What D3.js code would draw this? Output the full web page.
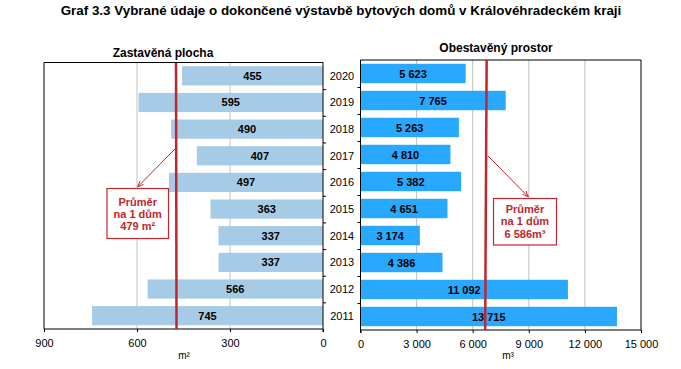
<!DOCTYPE html>
<html><head><meta charset="utf-8">
<script src="https://cdn.jsdelivr.net/npm/d3@7"></script>
<style>body{margin:0;background:#fff;}svg{display:block;font-family:"Liberation Sans",Arial,sans-serif;}</style>
</head><body>
<svg id="c" width="681" height="369"></svg>
<script>
const years = ["2020","2019","2018","2017","2016","2015","2014","2013","2012","2011"];
const plocha = [455,595,490,407,497,363,337,337,566,745];
const prostor = [5623,7765,5263,4810,5382,4651,3174,4386,11092,13715];
const avgPlocha = 479;
const avgProstor = 6586;
const leftTicks = [900,600,300,0];
const rightTicks = [0,3000,6000,9000,12000,15000];
const title = "Graf 3.3 Vybrané údaje o dokončené výstavbě bytových domů v Královéhradeckém kraji";

const svg = d3.select("#c");
const fmt = v => d3.format(",")(v).replace(/,/g, "\u00a0");
const red = "#c0272d";

svg.append("text").attr("x",341).attr("y",15).attr("text-anchor","middle")
  .attr("font-weight","bold").attr("font-size","13.4px").text(title);

// Left panel
const xL = d3.scaleLinear().domain([900,0]).range([44,323]);
const yL = d3.scaleBand().domain(years).range([62.5,329]).paddingInner(0.28).paddingOuter(0.14);
const gL = svg.append("g");
gL.selectAll(".grid").data([600,300]).join("line")
  .attr("x1",d=>xL(d)).attr("x2",d=>xL(d)).attr("y1",62.5).attr("y2",329)
  .attr("stroke","#c0c0c0").attr("stroke-width",1);
gL.selectAll(".bar").data(years).join("rect")
  .attr("x",(d,i)=>xL(plocha[i])).attr("width",(d,i)=>xL(0)-xL(plocha[i]))
  .attr("y",d=>yL(d)).attr("height",yL.bandwidth()).attr("fill","#a6cbe7");
gL.selectAll(".lbl").data(years).join("text")
  .attr("x",(d,i)=>(xL(plocha[i])+xL(0))/2).attr("y",d=>yL(d)+yL.bandwidth()/2+4)
  .attr("text-anchor","middle").attr("font-weight","bold").attr("font-size","11px")
  .text((d,i)=>fmt(plocha[i]));
gL.append("path").attr("d",`M${xL(0)},62.5H44V329`).attr("fill","none").attr("stroke","#000");
const axL = d3.axisBottom(xL).tickValues(leftTicks).tickSize(3).tickPadding(7);
gL.append("g").attr("transform","translate(0,329)").call(axL)
  .call(g=>{g.select(".domain").attr("d",`M44,0H${xL(0)}`); g.selectAll("text").attr("font-size","11px").attr("font-family","Liberation Sans, Arial");});
const axLR = d3.axisRight(d3.scaleLinear().domain([0,10]).range([62.5,329])).tickValues(d3.range(1,10)).tickSize(3).tickFormat("");
gL.append("g").attr("transform",`translate(${xL(0)},0)`).call(axLR)
  .call(g=>g.select(".domain").attr("d","M0,62.5V332"));
svg.append("text").attr("x",163).attr("y",57).attr("text-anchor","middle")
  .attr("font-weight","bold").attr("font-size","12px").text("Zastavěná plocha");
svg.append("text").attr("x",184).attr("y",359).attr("text-anchor","middle")
  .attr("font-size","10px").text("m²");

// year labels
svg.selectAll(".yr").data(years).join("text")
  .attr("x",342).attr("y",d=>yL(d)+yL.bandwidth()/2+4).attr("text-anchor","middle")
  .attr("font-size","11px").text(d=>d);

// Right panel
const xR = d3.scaleLinear().domain([0,15000]).range([360.5,641]);
const yR = d3.scaleBand().domain(years).range([60,330]).paddingInner(0.28).paddingOuter(0.14);
const gR = svg.append("g");
gR.selectAll(".grid").data([3000,6000,9000,12000]).join("line")
  .attr("x1",d=>xR(d)).attr("x2",d=>xR(d)).attr("y1",60).attr("y2",330)
  .attr("stroke","#c0c0c0").attr("stroke-width",1);
gR.selectAll(".bar").data(years).join("rect")
  .attr("x",xR(0)).attr("width",(d,i)=>xR(prostor[i])-xR(0))
  .attr("y",d=>yR(d)).attr("height",yR.bandwidth()).attr("fill","#29a8ff");
gR.selectAll(".lbl").data(years).join("text")
  .attr("x",(d,i)=>(xR(prostor[i])+xR(0))/2).attr("y",d=>yR(d)+yR.bandwidth()/2+4)
  .attr("text-anchor","middle").attr("font-weight","bold").attr("font-size","11px")
  .text((d,i)=>fmt(prostor[i]));
gR.append("path").attr("d",`M${xR(0)},60H641V330`).attr("fill","none").attr("stroke","#000");
const axR = d3.axisBottom(xR).tickValues(rightTicks).tickSize(3).tickPadding(7).tickFormat(fmt);
gR.append("g").attr("transform","translate(0,330)").call(axR)
  .call(g=>{g.select(".domain").attr("d",`M${xR(0)},0H641`); g.selectAll("text").attr("font-size","11px").attr("font-family","Liberation Sans, Arial");});
const axRL = d3.axisLeft(d3.scaleLinear().domain([0,10]).range([60,330])).tickValues(d3.range(1,10)).tickSize(3).tickFormat("");
gR.append("g").attr("transform",`translate(${xR(0)},0)`).call(axRL)
  .call(g=>g.select(".domain").attr("d","M0,60V333"));
svg.append("text").attr("x",496).attr("y",52).attr("text-anchor","middle")
  .attr("font-weight","bold").attr("font-size","12px").text("Obestavěný prostor");
svg.append("text").attr("x",508).attr("y",359).attr("text-anchor","middle")
  .attr("font-size","10px").text("m³");

// Average lines
svg.append("line").attr("x1",xL(avgPlocha)+1.5).attr("x2",xL(avgPlocha)+2).attr("y1",63).attr("y2",329)
  .attr("stroke",red).attr("stroke-width",2.5);
svg.append("line").attr("x1",xR(avgProstor)+3).attr("x2",xR(avgProstor)+1.5).attr("y1",60).attr("y2",330)
  .attr("stroke",red).attr("stroke-width",2.5);

const defs = svg.append("defs");
defs.append("marker").attr("id","arr").attr("viewBox","0 0 10 10").attr("refX",9).attr("refY",5)
  .attr("markerWidth",6).attr("markerHeight",6).attr("orient","auto")
  .append("path").attr("d","M0,1L10,5L0,9").attr("fill","none").attr("stroke",red).attr("stroke-width",1.5);

// annotation left
svg.append("line").attr("x1",175).attr("y1",149).attr("x2",138).attr("y2",186.5)
  .attr("stroke",red).attr("stroke-width",1).attr("marker-end","url(#arr)");
svg.append("rect").attr("x",107).attr("y",188.5).attr("width",61.5).attr("height",50)
  .attr("fill","#fff").attr("stroke",red).attr("stroke-width",1.2);
const tl = svg.append("text").attr("text-anchor","middle").attr("fill",red)
  .attr("font-weight","bold").attr("font-size","11px");
["Průměr","na 1 dům","479 m²"].forEach((t,i)=>tl.append("tspan").attr("x",137.7).attr("y",205.5+i*12.3).text(t));

// annotation right
svg.append("line").attr("x1",488).attr("y1",156).attr("x2",528).attr("y2",196.5)
  .attr("stroke",red).attr("stroke-width",1).attr("marker-end","url(#arr)");
svg.append("rect").attr("x",493.5).attr("y",198.5).attr("width",63).attr("height",46.5)
  .attr("fill","#fff").attr("stroke",red).attr("stroke-width",1.2);
const tr = svg.append("text").attr("text-anchor","middle").attr("fill",red)
  .attr("font-weight","bold").attr("font-size","11px");
["Průměr","na 1 dům","6 586m³"].forEach((t,i)=>tr.append("tspan").attr("x",525).attr("y",213+i*12.3).text(t));
</script>
</body></html>
